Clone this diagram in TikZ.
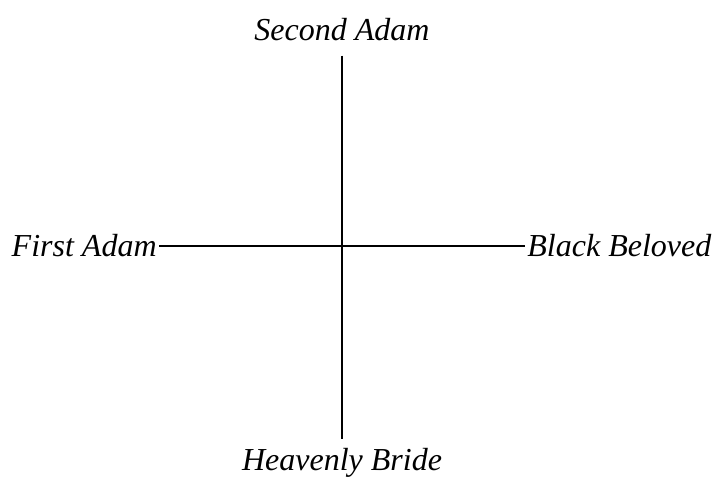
\documentclass[tikz,border=0pt]{standalone}
\usepackage{fontspec}
\setmainfont{Liberation Serif}
\usetikzlibrary{positioning}
\tikzset{
  label/.style={font=\fontsize{16}{18}\selectfont\itshape,inner sep=0pt},
  axis/.style={line width=1pt,black}
}

\begin{document}
\begin{tikzpicture}[x=0.5pt,y=-0.5pt]
  \useasboundingbox (0,0) rectangle (715,479);
  \node[label] (second) at (342,30) {Second Adam};
  \node[label] (bride) at (342,463) {Heavenly Bride};
  \node[label,anchor=east] (first) at (157,246) {First Adam};
  \node[label,anchor=west] (black) at (527,246) {Black Beloved};
  \draw[axis,shorten <=7pt,shorten >=4.5pt] (second) -- (bride);
  \draw[axis,shorten <=1pt,shorten >=1pt] (first) -- (black);
\end{tikzpicture}
\end{document}
